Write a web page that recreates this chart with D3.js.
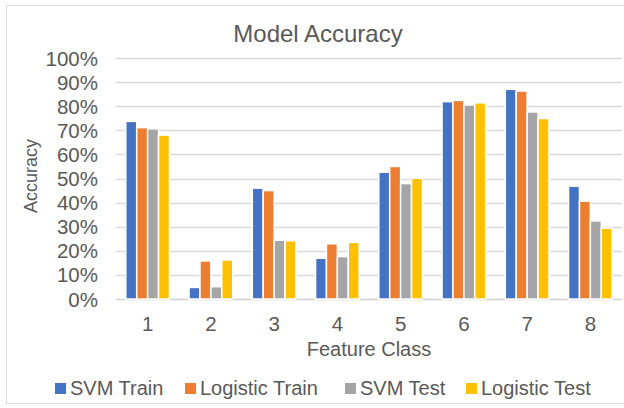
<!DOCTYPE html>
<html>
<head>
<meta charset="utf-8">
<script src="https://cdn.jsdelivr.net/npm/d3@7"></script>
<style>
  body { margin: 0; background: #fff; }
  svg { font-family: "Liberation Sans", Arial, sans-serif; }
</style>
</head>
<body>
<div id="vis"></div>
<script>
var categories = ["1", "2", "3", "4", "5", "6", "7", "8"];
var seriesNames = ["SVM Train", "Logistic Train", "SVM Test", "Logistic Test"];
var seriesColors = ["#4472c4", "#ed7d31", "#a5a5a5", "#ffc000"];
var svmTrain = [0.737, 0.048, 0.460, 0.169, 0.526, 0.819, 0.870, 0.468];
var logisticTrain = [0.711, 0.158, 0.450, 0.229, 0.550, 0.824, 0.863, 0.406];
var svmTest = [0.706, 0.051, 0.244, 0.176, 0.479, 0.805, 0.776, 0.324];
var logisticTest = [0.680, 0.162, 0.242, 0.235, 0.501, 0.814, 0.749, 0.294];
var yTicks = [0, 0.1, 0.2, 0.3, 0.4, 0.5, 0.6, 0.7, 0.8, 0.9, 1.0];

var allSeries = [svmTrain, logisticTrain, svmTest, logisticTest];

var width = 624, height = 408;
var margin = { left: 116, right: 2, top: 58, bottom: 109 };

var svg = d3.select("#vis")
            .append("svg")
            .attr("width", width)
            .attr("height", height);

// chart frame
svg.append("rect")
    .attr("x", 6.5).attr("y", 5.5)
    .attr("width", 640).attr("height", 398)
    .attr("fill", "none")
    .attr("stroke", "#d9d9d9");

var x = d3.scaleBand()
    .domain(categories)
    .range([margin.left, width - margin.right])
    .paddingInner(0.31)
    .paddingOuter(0.155);

var xs = d3.scaleBand()
    .domain(d3.range(seriesNames.length))
    .range([0, x.bandwidth()]);

var y = d3.scaleLinear()
    .domain([0, 1])
    .range([height - margin.bottom, margin.top]);

// gridlines
svg.append("g")
    .selectAll("line")
    .data(yTicks)
    .join("line")
    .attr("x1", margin.left)
    .attr("x2", width - margin.right)
    .attr("y1", d => Math.round(y(d)) + 0.5)
    .attr("y2", d => Math.round(y(d)) + 0.5)
    .attr("stroke", d => d === 0 ? "#d0d0d0" : "#d9d9d9")
    .attr("stroke-width", 1.5);

// y labels
svg.append("g")
    .selectAll("text")
    .data(yTicks)
    .join("text")
    .attr("x", 98)
    .attr("y", d => y(d) + 7.5)
    .attr("text-anchor", "end")
    .style("font-size", "20.5px")
    .attr("fill", "#595959")
    .text(d => d3.format(".0%")(d));

// bars
var groups = svg.append("g")
    .selectAll("g")
    .data(allSeries)
    .join("g")
    .attr("fill", (d, i) => seriesColors[i]);

groups.each(function (vals, si) {
    d3.select(this)
      .selectAll("rect")
      .data(vals)
      .join("rect")
      .attr("x", (v, ci) => x(categories[ci]) + xs(si))
      .attr("y", v => y(v))
      .attr("width", xs.bandwidth())
      .attr("height", v => y(0) - y(v))
      .attr("stroke", "white")
      .attr("stroke-width", 1.5);
});

// x labels
svg.append("g")
    .selectAll("text")
    .data(categories)
    .join("text")
    .attr("x", d => x(d) + x.bandwidth() / 2)
    .attr("y", 331)
    .attr("text-anchor", "middle")
    .style("font-size", "20.5px")
    .attr("fill", "#595959")
    .text(d => d);

// axis titles
svg.append("text")
    .attr("x", (margin.left + width - margin.right) / 2)
    .attr("y", 356)
    .attr("text-anchor", "middle")
    .style("font-size", "20px")
    .attr("fill", "#595959")
    .text("Feature Class");

svg.append("text")
    .attr("transform", "translate(37,176) rotate(-90)")
    .attr("text-anchor", "middle")
    .style("font-size", "18px")
    .attr("fill", "#595959")
    .text("Accuracy");

// title
svg.append("text")
    .attr("x", 318)
    .attr("y", 42)
    .attr("text-anchor", "middle")
    .style("font-size", "24px")
    .attr("fill", "#595959")
    .text("Model Accuracy");

// legend
var legendX = [55, 185, 345, 466];
var legend = svg.append("g")
    .selectAll("g")
    .data(seriesNames)
    .join("g")
    .attr("transform", (d, i) => "translate(" + legendX[i] + ",389)");

legend.append("rect")
    .attr("x", 0).attr("y", -6)
    .attr("width", 11).attr("height", 11)
    .attr("fill", (d, i) => seriesColors[i]);

legend.append("text")
    .attr("x", 15)
    .attr("y", 6)
    .style("font-size", "20px")
    .attr("fill", "#595959")
    .text(d => d);
</script>
</body>
</html>
